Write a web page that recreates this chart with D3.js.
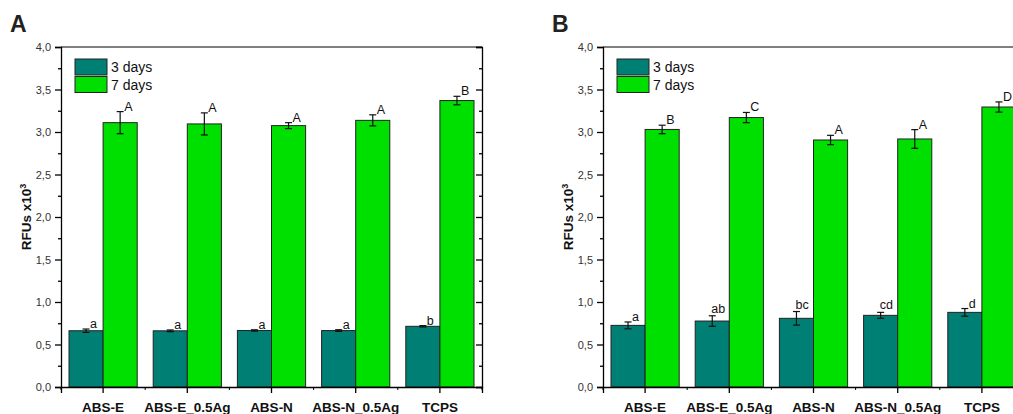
<!DOCTYPE html>
<html>
<head>
<meta charset="utf-8">
<script src="https://cdn.jsdelivr.net/npm/d3@7"></script>
<style>
  body { margin: 0; background: #fff; }
  svg { display: block; font-family: "Liberation Sans", Arial, sans-serif; }
</style>
</head>
<body>
<div id="chart-area"></div>
<script>
// categories / series
var categories = ["ABS-E", "ABS-E_0.5Ag", "ABS-N", "ABS-N_0.5Ag", "TCPS"];
var seriesNames = ["3 days", "7 days"];
var seriesColors = ["#007f74", "#00e000"];
var yTickValues = [0, 0.5, 1.0, 1.5, 2.0, 2.5, 3.0, 3.5, 4.0];

// panel A
var a3Mean = [0.662, 0.661, 0.665, 0.664, 0.714];
var a3Err = [0.02, 0.01, 0.008, 0.01, 0.008];
var a3Labels = ["a", "a", "a", "a", "b"];
var a7Mean = [3.11, 3.095, 3.075, 3.137, 3.37];
var a7Err = [0.13, 0.13, 0.035, 0.065, 0.05];
var a7Labels = ["A", "A", "A", "A", "B"];

// panel B
var b3Mean = [0.725, 0.776, 0.808, 0.843, 0.878];
var b3Err = [0.04, 0.062, 0.08, 0.035, 0.045];
var b3Labels = ["a", "ab", "bc", "cd", "d"];
var b7Mean = [3.03, 3.17, 2.906, 2.918, 3.294];
var b7Err = [0.05, 0.06, 0.055, 0.11, 0.06];
var b7Labels = ["B", "C", "A", "A", "D"];

var dims = {
    width: 1013,
    height: 414,
    plotLeft: 61,
    plotTop: 47,
    plotWidth: 421,
    plotHeight: 340,
    panelShift: 542
};

var svg = d3.select("#chart-area")
    .append("svg")
    .attr("width", dims.width)
    .attr("height", dims.height);

function fmt(v) {
    return d3.format(".1f")(v).replace(".", ",");
}

function drawPanel(letter, offset, means, errs, labels) {
    var g = svg.append("g")
        .attr("transform", "translate(" + (dims.plotLeft + offset) + "," + dims.plotTop + ")");

    var x = d3.scaleBand()
        .domain(categories)
        .range([0, dims.plotWidth]);
    var xSub = d3.scaleBand()
        .domain(seriesNames)
        .range([8, x.bandwidth() - 8]);
    var y = d3.scaleLinear()
        .domain([0, 4])
        .range([dims.plotHeight, 0]);

    // panel letter
    svg.append("text")
        .attr("x", 10 + offset)
        .attr("y", 32)
        .attr("font-size", 23)
        .attr("font-weight", "bold")
        .attr("fill", "#222")
        .text(letter);

    // y title
    var yt = svg.append("text")
        .attr("transform", "translate(" + (31 + offset) + "," + (dims.plotTop + dims.plotHeight / 2) + ") rotate(-90)")
        .attr("text-anchor", "middle")
        .attr("font-size", 13.5)
        .attr("font-weight", "bold")
        .attr("fill", "#111");
    yt.append("tspan").text("RFUs x10");
    yt.append("tspan").attr("font-size", 9).attr("dy", -5).text("3");

    // bars
    seriesNames.forEach(function (s, si) {
        var rows = categories.map(function (c, i) {
            return { cat: c, mean: means[si][i], err: errs[si][i], label: labels[si][i] };
        });
        var grp = g.append("g");
        grp.selectAll("rect")
            .data(rows)
            .enter().append("rect")
            .attr("x", function (d) { return x(d.cat) + xSub(s); })
            .attr("y", function (d) { return y(d.mean); })
            .attr("width", xSub.bandwidth())
            .attr("height", function (d) { return y(0) - y(d.mean); })
            .attr("fill", seriesColors[si])
            .attr("stroke", "#222")
            .attr("stroke-width", 1);

        var eb = grp.selectAll(".err")
            .data(rows)
            .enter().append("g")
            .attr("stroke", "#111")
            .attr("stroke-width", 1.2);
        var cx = function (d) { return x(d.cat) + xSub(s) + xSub.bandwidth() / 2; };
        eb.append("line")
            .attr("x1", cx).attr("x2", cx)
            .attr("y1", function (d) { return y(d.mean - d.err); })
            .attr("y2", function (d) { return y(d.mean + d.err); });
        eb.append("line")
            .attr("x1", function (d) { return cx(d) - 3.5; })
            .attr("x2", function (d) { return cx(d) + 3.5; })
            .attr("y1", function (d) { return y(d.mean + d.err); })
            .attr("y2", function (d) { return y(d.mean + d.err); });
        eb.append("line")
            .attr("x1", function (d) { return cx(d) - 3.5; })
            .attr("x2", function (d) { return cx(d) + 3.5; })
            .attr("y1", function (d) { return y(d.mean - d.err); })
            .attr("y2", function (d) { return y(d.mean - d.err); });

        grp.selectAll(".sig")
            .data(rows)
            .enter().append("text")
            .attr("x", function (d) { return cx(d) + (d.label.length > 1 ? -1 : 4); })
            .attr("y", function (d) { return y(d.mean + d.err) - (d.label.length > 1 ? 3 : 1); })
            .attr("font-size", 12.5)
            .attr("fill", "#111")
            .text(function (d) { return d.label; });
    });

    // left axis
    var left = g.append("g")
        .call(d3.axisLeft(y).tickValues(yTickValues).tickFormat(fmt).tickSize(6).tickPadding(4));
    left.append("g")
        .call(d3.axisLeft(y).tickValues(d3.range(0.25, 4, 0.5)).tickFormat("").tickSize(3))
        .select(".domain").remove();
    left.selectAll("text").attr("font-size", 11).attr("fill", "#333").attr("font-family", "Liberation Sans, Arial, sans-serif");

    // right axis, ticks inward
    var right = g.append("g")
        .attr("transform", "translate(" + dims.plotWidth + ",0)")
        .call(d3.axisLeft(y).tickValues(yTickValues).tickFormat("").tickSize(6));
    right.append("g")
        .call(d3.axisLeft(y).tickValues(d3.range(0.25, 4, 0.5)).tickFormat("").tickSize(3))
        .select(".domain").remove();

    // top border
    g.append("line")
        .attr("x1", 0).attr("x2", dims.plotWidth)
        .attr("y1", 0).attr("y2", 0)
        .attr("stroke", "#000");

    // bottom axis
    var bottom = g.append("g")
        .attr("transform", "translate(0," + dims.plotHeight + ")")
        .call(d3.axisBottom(x).tickSize(6).tickPadding(9));
    bottom.selectAll("text")
        .attr("font-size", 13.5)
        .attr("font-weight", "bold")
        .attr("fill", "#111")
        .attr("font-family", "Liberation Sans, Arial, sans-serif");
    var bounds = categories.map(function (c) { return x(c); }).concat([dims.plotWidth]);
    bottom.selectAll(".minor")
        .data(bounds)
        .enter().append("line")
        .attr("x1", function (d) { return d; })
        .attr("x2", function (d) { return d; })
        .attr("y1", 0).attr("y2", 3)
        .attr("stroke", "#000");

    g.selectAll(".domain, .tick line").attr("stroke", "#000").attr("stroke-width", 1.3);

    // legend
    var legend = g.append("g")
        .attr("transform", "translate(14,12)");
    seriesNames.forEach(function (s, si) {
        legend.append("rect")
            .attr("x", 0)
            .attr("y", si * 17.5)
            .attr("width", 32)
            .attr("height", 16)
            .attr("fill", seriesColors[si])
            .attr("stroke", "#222");
        legend.append("text")
            .attr("x", 36)
            .attr("y", si * 17.5 + 13)
            .attr("font-size", 14)
            .attr("fill", "#111")
            .text(s);
    });
}

drawPanel("A", 0, [a3Mean, a7Mean], [a3Err, a7Err], [a3Labels, a7Labels]);
drawPanel("B", dims.panelShift, [b3Mean, b7Mean], [b3Err, b7Err], [b3Labels, b7Labels]);
</script>
</body>
</html>
